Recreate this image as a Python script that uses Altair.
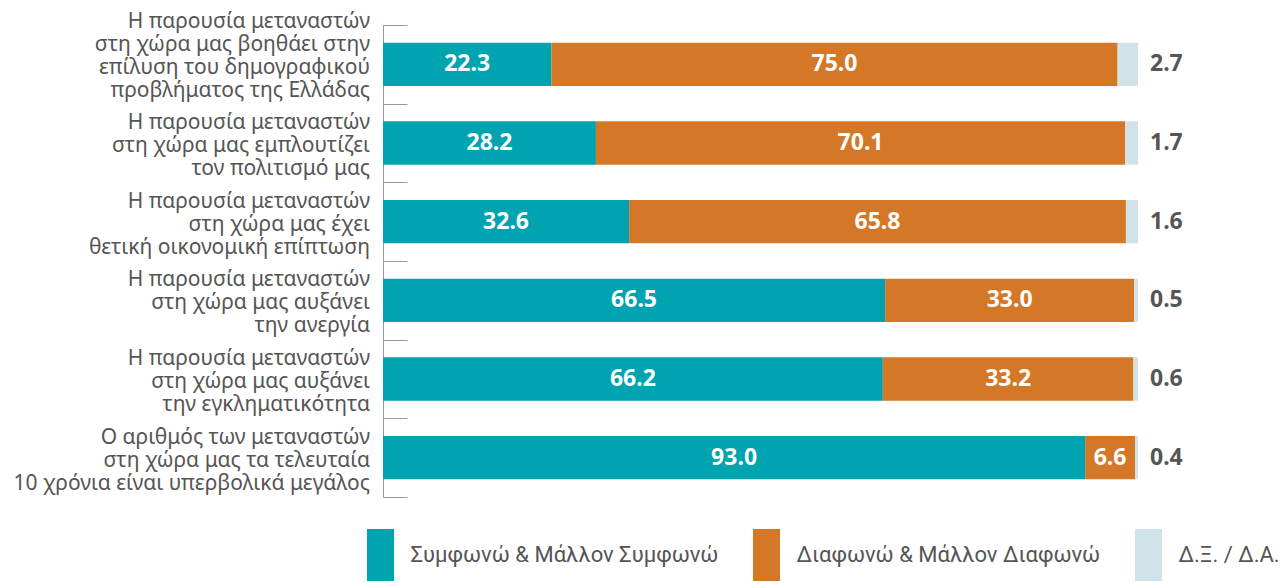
import altair as alt
import pandas as pd

categories = [
    "Η παρουσία μεταναστών|στη χώρα μας βοηθάει στην|επίλυση του δημογραφικού|προβλήματος της Ελλάδας",
    "Η παρουσία μεταναστών|στη χώρα μας εμπλουτίζει|τον πολιτισμό μας",
    "Η παρουσία μεταναστών|στη χώρα μας έχει|θετική οικονομική επίπτωση",
    "Η παρουσία μεταναστών|στη χώρα μας αυξάνει|την ανεργία",
    "Η παρουσία μεταναστών|στη χώρα μας αυξάνει|την εγκληματικότητα",
    "Ο αριθμός των μεταναστών|στη χώρα μας τα τελευταία|10 χρόνια είναι υπερβολικά μεγάλος",
]
series = ["Συμφωνώ & Μάλλον Συμφωνώ", "Διαφωνώ & Μάλλον Διαφωνώ", "Δ.Ξ. / Δ.Α."]
agree = [22.3, 28.2, 32.6, 66.5, 66.2, 93.0]
disagree = [75.0, 70.1, 65.8, 33.0, 33.2, 6.6]
dont_know = [2.7, 1.7, 1.6, 0.5, 0.6, 0.4]
colors = ["#00A3B0", "#D47828", "#D0E3E8"]

rows = []
for i, c in enumerate(categories):
    for k, vals in enumerate([agree, disagree, dont_know]):
        rows.append({"cat": c, "series": series[k], "value": vals[i], "order": k})
df = pd.DataFrame(rows)

FONT = "Noto Sans"
LINE_H = 23
W, H = 755, 472
HALF_STEP = H / len(categories) / 2

base = alt.Chart(df).transform_stack(
    stack="value", groupby=["cat"], sort=[alt.SortField("order")], as_=["x0", "x1"]
).transform_calculate(mid="(datum.x0 + datum.x1) / 2")

y = alt.Y(
    "cat:N",
    sort=categories,
    scale=alt.Scale(paddingInner=0, paddingOuter=0),
    axis=alt.Axis(
        title=None,
        labels=False,
        ticks=False,
        grid=True,
        gridDash=[24, 3000],
        gridColor="#999999",
        tickBand="extent",
        domainColor="#999999",
    ),
)

bars = base.mark_bar(height=alt.RelativeBandSize(0.55)).encode(
    x=alt.X("x0:Q", scale=alt.Scale(domain=[0, 100]), axis=None),
    x2="x1:Q",
    y=y,
    color=alt.Color(
        "series:N",
        scale=alt.Scale(domain=series, range=colors),
        legend=alt.Legend(
            title=None,
            orient="none",
            legendX=-28.5,
            legendY=504,
            direction="horizontal",
            symbolType="M-0.52,-1L0.52,-1L0.52,1L-0.52,1Z",
            symbolSize=2704,
            symbolStrokeWidth=0,
            symbolOpacity=1,
            labelFont="Roboto",
            labelFontSize=22,
            labelColor="#555555",
            labelOffset=4,
            columnPadding=22,
            labelLimit=400,
        ),
    ),
    order=alt.Order("order:Q"),
)

ylab = alt.Y("cat:N", sort=categories)

cat_labels = base.transform_filter("datum.order == 0").transform_calculate(
    n="length(split(datum.cat, '|'))"
).transform_calculate(
    off=f"{HALF_STEP} - (datum.n - 1) * {LINE_H} / 2 + (datum.n > 3 ? -8 : 3)"
).mark_text(
    align="right", baseline="middle", lineBreak="|", lineHeight=LINE_H,
    fontSize=21, font=FONT, color="#555555",
).encode(
    x=alt.value(-13),
    y=ylab,
    yOffset=alt.YOffset("off:Q", scale=None),
    text="cat:N",
)

inner = base.transform_filter("datum.order < 2").mark_text(
    color="white", fontWeight="bold", fontSize=23, font=FONT
).encode(
    x="mid:Q",
    y=ylab,
    text=alt.Text("value:Q", format=".1f"),
)

outer = base.transform_filter("datum.order == 2").mark_text(
    color="#555555", fontWeight="bold", fontSize=23, font=FONT, align="left", dx=12
).encode(
    x="x1:Q",
    y=ylab,
    text=alt.Text("value:Q", format=".1f"),
)

chart = alt.layer(bars, cat_labels, inner, outer).properties(
    width=W,
    height=H,
    autosize=alt.AutoSizeParams(type="none"),
    padding={"left": 375, "top": 17, "right": 140, "bottom": 90},
).configure_view(stroke=None)

chart.save("out.html", embed_options={"renderer": "svg", "actions": False})
